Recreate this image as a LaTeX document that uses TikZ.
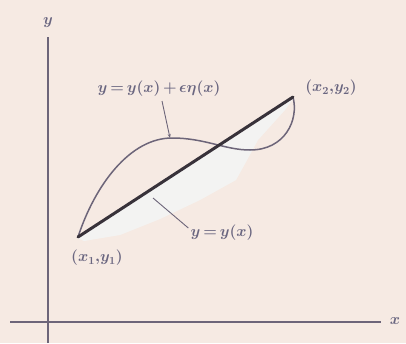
\documentclass[tikz,border=0pt]{standalone}
\usepackage{amsmath}
\usepackage{bm}
\usepackage{graphicx}
\usetikzlibrary{arrows.meta}
\definecolor{paper}{HTML}{F6EAE3}
\definecolor{ink}{HTML}{6D6579}
\definecolor{txt}{HTML}{6A6680}
\definecolor{dark}{HTML}{38323A}
\definecolor{smear}{HTML}{F3F5F5}
\newcommand\tightsp{\thickmuskip=3mu plus 1mu\relax\medmuskip=2.5mu\relax}
\newcommand\bigtxt[1]{\scalebox{1.08}{#1}}
\tikzset{
  axis/.style={draw=ink, line width=1.1pt},
  curve/.style={draw=ink, line width=1.5pt},
  pointer/.style={draw=ink, line width=0.9pt},
  lab/.style={text=txt, font=\fontsize{14.4}{17}\selectfont\boldmath, inner sep=1pt}
}
\begin{document}
\begin{tikzpicture}[x=1pt,y=-1pt]
\useasboundingbox (0,0) rectangle (406,343);
\fill[paper] (0,0) rectangle (406,343);
% axes
\coordinate (yb) at (48,343);
\coordinate (yt) at (48,37);
\coordinate (xl) at (10,322);
\coordinate (xr) at (381,322);
\path[axis] (yb) -- (yt);
\path[axis] (xl) -- (xr);
\node[lab] (ylab) at (48,23) {\bigtxt{$\bm{y}$}};
\node[lab] (xlab) at (395,321) {\bigtxt{$\bm{x}$}};
% end points
\coordinate (p1) at (78,237);
\coordinate (p2) at (293,97);
% smear (erasure)
\fill[smear, opacity=0.85] (84,241) -- (120,235) -- (160,219) -- (200,200) -- (236,180) -- (246,162) -- (258,140) -- (285,110) -- (293,99) -- (78,238) -- cycle;
% perturbed curve
\path[curve] (p1) .. controls (95,185) and (130,138) .. (172,138)
  .. controls (205,138) and (225,150) .. (250,150)
  .. controls (285,150) and (299,120) .. (p2);
% straight extremal
\draw[dark, line width=3pt, line cap=round] (p1) -- (p2);
% labels
\node[lab] (lpert) at (159,89) {\bigtxt{\tightsp$\bm{y=y(x)+\epsilon\eta(x)}$}};
\node[lab] (lstr) at (222,233) {\bigtxt{\tightsp$\bm{y=y(x)}$}};
\node[lab] (l1) at (97,258) {\bigtxt{$\bm{(x_1{,}y_1)}$}};
\node[lab] (l2) at (331,88) {\bigtxt{$\bm{(x_2{,}y_2)}$}};
% pointers
\coordinate (c1) at (170,138);
\coordinate (c2) at (153,198);
\draw[pointer, -{Stealth[length=4pt,width=3pt]}] (162,101) -- (c1);
\draw[pointer] (lstr.west) ++(-1,-5) -- (c2);
\end{tikzpicture}
\end{document}
